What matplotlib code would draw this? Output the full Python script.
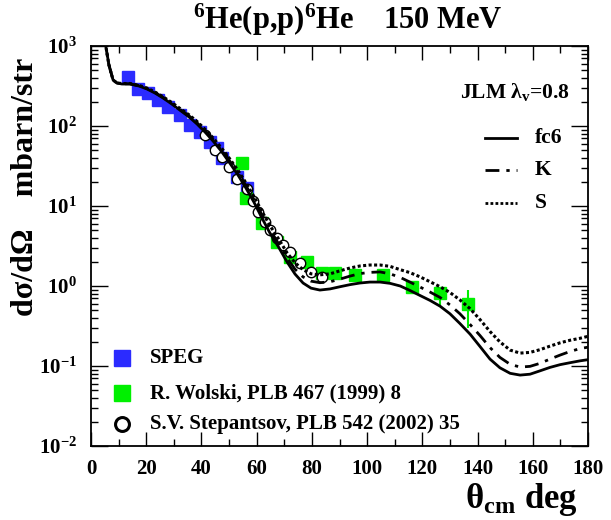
import matplotlib
matplotlib.use("Agg")
import matplotlib.pyplot as plt
from matplotlib.ticker import FixedLocator, LogLocator, NullFormatter, FixedFormatter, MultipleLocator

plt.rcParams['font.family'] = ['Liberation Serif', 'DejaVu Serif']
plt.rcParams['font.weight'] = 'bold'
plt.rcParams['mathtext.fontset'] = 'custom'
plt.rcParams['mathtext.rm'] = 'Liberation Serif:bold'
plt.rcParams['mathtext.it'] = 'Liberation Serif:bold'
plt.rcParams['mathtext.bf'] = 'Liberation Serif:bold'
plt.rcParams['mathtext.default'] = 'bf'

# ---- data ----
speg_angle = [13.4, 17.0, 20.6, 24.3, 27.9, 32.2, 35.9, 39.5, 43.1, 45.6, 47.4, 52.9, 56.5]
speg_xs = [410, 290, 258, 211, 174, 138, 103, 84, 63, 53, 40, 23, 17]

wolski_angle = [54.7, 56.1, 61.9, 67.4, 72.1, 78.2, 83.7, 88.4, 95.6, 105.8, 116.3, 126.4, 136.5]
wolski_xs = [34.6, 12.6, 6.1, 3.5, 2.3, 2.0, 1.45, 1.45, 1.37, 1.37, 0.97, 0.82, 0.60]
wolski_err_lo = [0, 0, 0, 0, 0, 0, 0, 0, 0, 0, 0, 0.27, 0.30]
wolski_err_hi = [0, 0, 0, 0, 0, 0, 0, 0, 0, 0, 0, 0.16, 0.29]

step_angle = [41.3, 44.9, 47.4, 50.0, 52.9, 56.5, 58.7, 60.5, 63.0, 64.8, 67.4, 69.5, 72.1, 75.7, 79.7, 83.7]
step_xs = [77, 50, 41, 31, 22, 16.3, 11.5, 8.4, 6.3, 5.0, 4.0, 3.25, 2.7, 1.94, 1.5, 1.3]

curve_angle = [4.5, 6.5, 8.0, 9.4, 11.2, 14.1, 17.4, 20.3, 23.2, 26.1, 29.3, 32.2, 35.5, 38.4,
               41.3, 44.2, 47.1, 50.0, 53.2, 56.1, 59.0, 61.9, 64.8, 68.1, 71.0, 73.9, 76.8,
               79.7, 82.9, 86.6, 90.2, 93.8, 97.4, 101.0, 104.7, 108.3, 112.0, 115.5, 119.2,
               122.8, 126.4, 130.0, 133.6, 137.3, 140.9, 144.5, 148.1, 151.8, 155.4, 159.0,
               162.6, 166.2, 169.9, 173.5, 177.1, 180.0]
fc6_xs = [1500, 580, 376, 345, 335, 335, 316, 290, 258, 224, 188, 158, 130, 106,
          84, 65, 49, 35.5, 24.5, 16.8, 11.2, 7.1, 4.6, 3.0, 2.0, 1.41, 1.09,
          0.94, 0.89, 0.92, 0.98, 1.04, 1.09, 1.12, 1.12, 1.08, 1.0, 0.88, 0.76,
          0.66, 0.56, 0.45, 0.34, 0.25, 0.175, 0.122, 0.095, 0.081, 0.077, 0.079,
          0.087, 0.096, 0.104, 0.110, 0.116, 0.120]
k_xs = [1500, 580, 376, 345, 337, 337, 319, 294, 262, 228, 192, 162, 134, 110,
        87, 68, 51, 37.5, 26, 18, 12.1, 7.8, 5.1, 3.3, 2.25, 1.62, 1.3,
        1.15, 1.1, 1.13, 1.22, 1.33, 1.43, 1.48, 1.5, 1.42, 1.28, 1.12, 0.97,
        0.84, 0.72, 0.58, 0.45, 0.33, 0.24, 0.17, 0.128, 0.105, 0.097, 0.099,
        0.108, 0.122, 0.137, 0.152, 0.165, 0.172]
s_xs = [1500, 580, 376, 345, 340, 340, 322, 298, 266, 232, 196, 166, 138, 114,
        91, 71, 54, 40, 28, 19.5, 13.2, 8.6, 5.7, 3.8, 2.6, 1.95, 1.6,
        1.42, 1.38, 1.42, 1.55, 1.68, 1.78, 1.83, 1.83, 1.76, 1.6, 1.47, 1.3,
        1.13, 0.98, 0.83, 0.67, 0.52, 0.38, 0.27, 0.20, 0.158, 0.145, 0.148,
        0.16, 0.177, 0.195, 0.21, 0.222, 0.235]

x_ticks = [0, 20, 40, 60, 80, 100, 120, 140, 160, 180]
y_ticks = [1e-2, 1e-1, 1e0, 1e1, 1e2, 1e3]
y_ticklabels = ['$10^{-2}$', '$10^{-1}$', '$10^{0}$', '$10^{1}$', '$10^{2}$', '$10^{3}$']

BLUE = '#2b2bff'
GREEN = '#00f000'

fig = plt.figure(figsize=(6.11, 5.20), dpi=100)
ax = fig.add_axes([0.1489, 0.1423, 0.9624 - 0.1489, 0.9115 - 0.1423])

ax.errorbar(wolski_angle, wolski_xs, yerr=[wolski_err_lo, wolski_err_hi], fmt='none',
            ecolor=GREEN, elinewidth=1.5, capsize=0, zorder=2)
ax.plot(speg_angle, speg_xs, 's', color=BLUE, ms=8.5, mec=BLUE, zorder=2)
ax.plot(wolski_angle, wolski_xs, 's', color=GREEN, ms=8.5, mec=GREEN, zorder=2)
ax.plot(step_angle, step_xs, 'o', mfc='white', mec='black', mew=1.0, ms=7.5, zorder=3)

ax.plot(curve_angle, fc6_xs, '-', color='black', lw=2.0, zorder=4)
ax.plot(curve_angle, k_xs, color='black', lw=2.0, ls=(0, (5, 2.5, 1.2, 2.5)), zorder=4)
ax.plot(curve_angle, s_xs, color='black', lw=2.2, ls=(0, (1, 0.8)), zorder=4)

ax.set_yscale('log')
ax.set_xlim(0, 180)
ax.set_ylim(1e-2, 1e3)

ax.xaxis.set_major_locator(FixedLocator(x_ticks))
ax.xaxis.set_minor_locator(MultipleLocator(10))
ax.yaxis.set_major_locator(FixedLocator(y_ticks))
ax.yaxis.set_major_formatter(FixedFormatter(y_ticklabels))
ax.yaxis.set_minor_locator(LogLocator(base=10, subs=range(2, 10), numticks=20))
ax.yaxis.set_minor_formatter(NullFormatter())
ax.tick_params(which='both', direction='in', top=True, right=True, width=1.0)
ax.tick_params(which='major', length=10, labelsize=15, pad=9)
ax.tick_params(which='minor', length=5)
ax.tick_params(axis='y', which='major', length=12, pad=10)
for sp in ax.spines.values():
    sp.set_linewidth(1.3)
for lab in ax.get_xticklabels() + ax.get_yticklabels():
    lab.set_fontweight('bold')

fig.text(0.57, 0.962, '$^{6}$He(p,p)$^{6}$He    150 MeV', ha='center', va='center', fontsize=22, fontweight='bold')
fig.text(0.042, 0.64, 'd\u03c3/d\u03a9    mbarn/str', rotation=90, ha='center', va='center', fontsize=23, fontweight='bold')
fig.text(0.853, 0.04, '\u03b8$_{\\rm cm}$ deg', ha='center', va='center', fontsize=25, fontweight='bold')

# theory legend
ax.text(0.964, 0.885, 'JLM \u03bb$_{\\rm v}$=0.8', transform=ax.transAxes, ha='right', va='center', fontsize=15.5, fontweight='bold')
legend_lines = [('fc6', '-', 0.77), ('K', (0, (5, 2.5, 1.2, 2.5)), 0.69), ('S', (0, (1, 0.8)), 0.6075)]
for lab, ls, yy in legend_lines:
    ax.plot([0.793, 0.857], [yy, yy], transform=ax.transAxes, color='black', lw=2.0, ls=ls)
    ax.text(0.893, yy, lab, transform=ax.transAxes, ha='left', va='center', fontsize=15.5, fontweight='bold')

# data legend
ax.plot([0.0624], [0.22], 's', color=BLUE, ms=11, transform=ax.transAxes)
ax.text(0.119, 0.22, 'SPEG', transform=ax.transAxes, ha='left', va='center', fontsize=15, fontweight='bold')
ax.plot([0.0624], [0.1325], 's', color=GREEN, ms=11, transform=ax.transAxes)
ax.text(0.119, 0.1325, 'R. Wolski, PLB 467 (1999) 8', transform=ax.transAxes, ha='left', va='center', fontsize=15, fontweight='bold')
ax.plot([0.0624], [0.055], 'o', mfc='white', mec='black', mew=2.2, ms=10, transform=ax.transAxes)
ax.text(0.119, 0.055, 'S.V. Stepantsov, PLB 542 (2002) 35', transform=ax.transAxes, ha='left', va='center', fontsize=15, fontweight='bold')

fig.savefig('out.png', dpi=100)
